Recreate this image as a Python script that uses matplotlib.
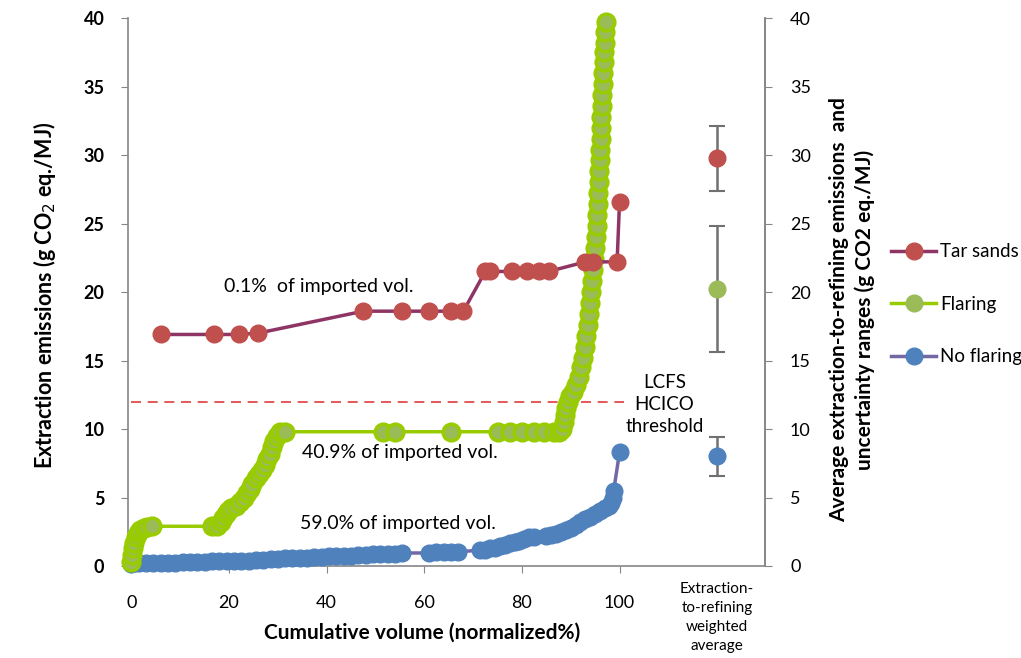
import matplotlib
matplotlib.use("Agg")
import matplotlib.pyplot as plt
from matplotlib.lines import Line2D

plt.rcParams['font.family'] = ['Lato', 'DejaVu Sans']

# ---------------- data ----------------
tar_x = [6, 17, 22, 26, 47.5, 55.5, 61, 65.5, 68, 72.5, 73.5, 78, 81, 83.5, 85.5, 93, 94.5, 99.5, 100]
tar_y = [16.9, 16.9, 16.9, 17.0, 18.6, 18.6, 18.6, 18.6, 18.6, 21.5, 21.5, 21.5, 21.5, 21.5, 21.5, 22.2, 22.2, 22.2, 26.6]

flare_x = [0.0, 0.2, 0.4, 0.6, 0.9, 1.3, 1.8, 2.5, 3.2, 4.2,
           16.5, 17.5,
           18.3, 18.8, 19.3, 19.8, 20.5, 21.5, 22.3, 23.0, 23.6, 24.2, 24.8, 25.5, 26.2, 26.8,
           27.3, 27.8, 28.3, 28.8, 29.3, 29.8, 30.5, 31.5,
           51.5, 54.0, 65.5, 75.0, 77.5, 80.0, 82.5, 84.5, 86.5, 87.5,
           88.3, 88.6, 88.9, 89.1, 89.4, 89.8, 90.4, 91.0, 91.6, 92.1, 92.5, 92.9, 93.2, 93.5,
           93.8, 94.0, 94.2, 94.4, 94.6, 94.8, 95.0, 95.1, 95.3, 95.4, 95.5, 95.6, 95.7, 95.8,
           95.9, 96.0, 96.1, 96.2, 96.3, 96.4, 96.5, 96.6, 96.7, 96.8, 96.9, 97.0, 97.1, 97.2]
flare_y = [0.3, 0.8, 1.3, 1.7, 2.1, 2.4, 2.6, 2.75, 2.85, 2.9,
           2.9, 2.95,
           3.2, 3.5, 3.8, 4.0, 4.2, 4.4, 4.7, 5.0, 5.3, 5.6, 6.0, 6.4, 6.7, 7.0,
           7.4, 7.8, 8.2, 8.7, 9.1, 9.5, 9.75, 9.8,
           9.8, 9.8, 9.8, 9.8, 9.8, 9.8, 9.8, 9.8, 9.8, 9.8,
           10.0, 10.5, 11.0, 11.5, 12.0, 12.4, 12.7, 13.2, 13.8, 14.5, 15.2, 16.0, 16.8, 17.6,
           18.4, 19.2, 20.0, 20.8, 21.6, 22.4, 23.2, 24.0, 24.8, 25.6, 26.4, 27.2, 28.0, 28.8,
           29.6, 30.4, 31.2, 32.0, 32.8, 33.6, 34.4, 35.2, 36.0, 36.8, 37.5, 38.2, 39.0, 39.7]

noflare_x = [0, 0.8, 1.6, 3, 4.5, 6, 7.5, 9, 10.5, 12, 13.5, 15, 16.5, 18, 19.5, 21, 22.5, 24,
             25.5, 27, 28.5, 30, 31.5, 33, 34.5, 36, 37.5, 39, 40.5, 42, 43.5, 45, 46.5, 48,
             49.5, 51, 52.5, 54, 55.5,
             61, 62.5, 64, 65.5, 67,
             71.5, 72.5, 73.5, 74.5, 75.5, 76.5, 77.5, 78.5, 79.5, 80.5, 81.5, 82.5,
             85, 86, 87, 88, 89, 90, 91, 92, 93, 94, 95, 96, 97, 97.8, 98.3, 98.6, 98.8, 100]
noflare_y = [0.15, 0.2, 0.2, 0.25, 0.25, 0.25, 0.25, 0.25, 0.3, 0.3, 0.3, 0.3, 0.35, 0.35, 0.4, 0.4,
             0.4, 0.4, 0.45, 0.45, 0.5, 0.5, 0.55, 0.55, 0.6, 0.6, 0.65, 0.65, 0.7, 0.7, 0.75, 0.75,
             0.8, 0.8, 0.85, 0.85, 0.9, 0.9, 0.95,
             0.95, 1.0, 1.0, 1.0, 1.05,
             1.15, 1.2, 1.3, 1.35, 1.45, 1.55, 1.65, 1.75, 1.85, 2.0, 2.1, 2.15,
             2.2, 2.25, 2.35, 2.5, 2.6, 2.8, 3.0, 3.2, 3.4, 3.6, 3.8, 4.0, 4.2, 4.4, 4.6, 5.0, 5.5, 8.3]

avg_x = [120, 120, 120]
avg_y = [29.8, 20.2, 8.0]
avg_lo = [27.4, 15.6, 6.6]
avg_hi = [32.1, 24.8, 9.4]

threshold = 12
x_ticks = [0, 20, 40, 60, 80, 100]
y_ticks = [0, 5, 10, 15, 20, 25, 30, 35, 40]

# ---------------- styles ----------------
c_red, c_red_line = '#C0504D', '#8E3566'
c_grn, c_grn_edge, c_grn_line = '#9BBB59', '#99CC00', '#99CC00'
c_blu, c_blu_line = '#4F81BD', '#7467A3'
grey = '#868686'

fig = plt.figure(figsize=(10.21, 6.58), dpi=100)
ax = fig.add_axes([128/1021, 1-566/658, (765-128)/1021, (566-18)/658])
ax.set_xlim(-0.7, 129.8)
ax.set_ylim(0, 40)

ms = 12
ax.plot(noflare_x, noflare_y, '-', color=c_blu_line, lw=2.5, marker='o', ms=ms,
        mfc=c_blu, mec=c_blu, zorder=3, clip_on=False)
ax.plot(flare_x, flare_y, '-', color=c_grn_line, lw=2.5, marker='o', ms=ms,
        mfc=c_grn, mec=c_grn_edge, mew=2.5, zorder=4, clip_on=False)
ax.plot(tar_x, tar_y, '-', color=c_red_line, lw=2.5, marker='o', ms=ms,
        mfc=c_red, mec=c_red, zorder=5)

ax.plot([0, 101], [threshold, threshold], color='#E03C3C', lw=1.2, ls=(0, (6, 4)), zorder=2)

cols = [c_red, c_grn, c_blu]
for xv, yv, lo, hi, c in zip(avg_x, avg_y, avg_lo, avg_hi, cols):
    ax.errorbar([xv], [yv], yerr=[[yv - lo], [hi - yv]], fmt='none', ecolor='#707070',
                elinewidth=1.8, capsize=6, capthick=1.5, zorder=3)
    ax.plot([xv], [yv], 'o', ms=ms, mfc=c, mec=c, zorder=4)

# texts
ax.text(38.3, 20.4, '0.1%  of imported vol.', fontsize=14, ha='center', va='center')
ax.text(55.1, 8.3, '40.9% of imported vol.', fontsize=14, ha='center', va='center')
ax.text(54.7, 3.1, '59.0% of imported vol.', fontsize=14, ha='center', va='center')
ax.text(109.2, 11.8, 'LCFS\nHCICO\nthreshold', fontsize=13.5, ha='center', va='center',
        linespacing=1.35)

# axes styling
ax.spines['top'].set_visible(False)
for s in ['left', 'bottom', 'right']:
    ax.spines[s].set_color(grey)
    ax.spines[s].set_linewidth(1.2)
ax.set_xticks(x_ticks)
ax.set_yticks(y_ticks)
ax.tick_params(axis='both', direction='out', color=grey, length=5, labelsize=13)
ax.tick_params(axis='y', pad=12)
ax.tick_params(axis='x', pad=16)
for lab in ax.get_yticklabels():
    lab.set_fontweight('bold')

ax2 = ax.twinx()
ax2.set_ylim(0, 40)
ax2.set_yticks(y_ticks)
ax2.tick_params(axis='y', direction='out', color=grey, length=5, labelsize=13, pad=13)
for s in ['top', 'left', 'bottom']:
    ax2.spines[s].set_visible(False)
ax2.spines['right'].set_color(grey)
ax2.spines['right'].set_linewidth(1.2)

ax.text(120, -1.15, 'Extraction-\nto-refining\nweighted\naverage', fontsize=11,
        ha='center', va='top', linespacing=1.45)

ax.set_xlabel('Cumulative volume (normalized%)', fontsize=15, fontweight='bold')
ax.xaxis.set_label_coords((422 - 128) / (765 - 128), -(633 - 566) / (566 - 18))
ax.xaxis.label.set_va('center')
fig.text(45/1021, 1-295/658, 'Extraction emissions (g CO$_2$ eq./MJ)', rotation=90,
         fontsize=15.5, fontweight='bold', ha='center', va='center')
fig.text(852/1021, 1-310/658,
         'Average extraction-to-refining emissions  and\nuncertainty ranges (g CO2 eq./MJ)',
         rotation=90, fontsize=15, fontweight='bold', ha='center', va='center',
         multialignment='center', linespacing=1.3)

handles = [
    Line2D([], [], color=c_red_line, lw=2.5, marker='o', ms=ms, mfc=c_red, mec=c_red),
    Line2D([], [], color=c_grn_line, lw=2.5, marker='o', ms=ms, mfc=c_grn, mec=c_grn),
    Line2D([], [], color=c_blu_line, lw=2.5, marker='o', ms=ms, mfc=c_blu, mec=c_blu),
]
fig.legend(handles, ['Tar sands', 'Flaring', 'No flaring'], loc='upper left',
           bbox_to_anchor=(878/1021, 1-230/658), frameon=False, fontsize=13.5,
           labelspacing=1.9, handlelength=2.4, handletextpad=0.2, borderpad=0.2)

fig.savefig('out.png', dpi=100)
